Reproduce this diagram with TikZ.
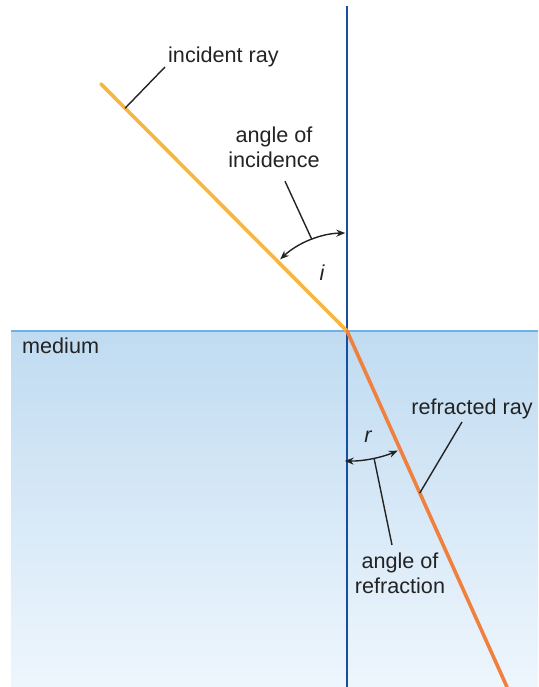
\documentclass[tikz,border=0pt]{standalone}
\usepackage{fontspec}
\setmainfont{Liberation Sans}
\usetikzlibrary{arrows.meta, calc}
\definecolor{normalblue}{RGB}{22,78,160}
\definecolor{incray}{RGB}{247,182,64}
\definecolor{refray}{RGB}{240,128,62}
\definecolor{medtop}{RGB}{192,219,241}
\definecolor{medbot}{RGB}{238,246,253}
\definecolor{surface}{RGB}{110,178,228}
\definecolor{labeltext}{RGB}{35,35,35}
\tikzset{
  lbl/.style={font=\fontsize{21.6}{25}\selectfont, text=labeltext, inner sep=0pt, align=center},
  ray/.style={line width=3.6pt, line cap=round},
  leader/.style={line width=1.4pt, labeltext},
  angarr/.style={{Stealth[length=9pt,width=7pt]}-{Stealth[length=9pt,width=7pt]}, line width=1.4pt, labeltext},
}

\begin{document}
\begin{tikzpicture}[x=1pt, y=1pt]
  \useasboundingbox (0,0) rectangle (538,687);
  \coordinate (O) at (347,356);
  \coordinate (ntop) at (347,681);
  \coordinate (nbot) at (347,0);
  \coordinate (src) at (101,603);
  \coordinate (dst) at (507,0);
  \coordinate (mleft) at (11,356);
  \coordinate (mright) at (538,356);

  \shade[top color=medtop, bottom color=medbot] (11,0) rectangle (mright);
  \draw[surface, line width=2pt] (mleft) -- (mright);
  \draw[normalblue, line width=2.8pt] (nbot) -- (ntop);
  \draw[ray, incray] (src) -- (O);
  \draw[ray, refray] (O) -- (dst);

  \node[lbl, anchor=base west] (incl) at (168,624) {incident ray};
  \node[lbl, anchor=north] (incang) at (274,560) {angle of\\incidence};
  \node[lbl, anchor=base west] (medl) at (22,333) {medium};
  \node[lbl, anchor=base] (refl) at (472,272) {refracted ray};
  \node[lbl, anchor=north] (refang) at (400,134) {angle of\\refraction};
  \node[lbl, font=\fontsize{21.6}{25}\selectfont\itshape] (ilbl) at (322,414) {i};
  \node[lbl, font=\fontsize{21.6}{25}\selectfont\itshape] (rlbl) at (368,250) {r};

  \draw[angarr] ($(O)+(133:98)$) arc[start angle=133, end angle=91, radius=98];
  \draw[angarr] ($(O)+(-91:130)$) arc[start angle=-91, end angle=-67, radius=130];

  \draw[leader] ($(src)!0.098!(O)$) -- ($(incl.base west)+(-3,-4)$);
  \draw[leader] ($(O)+(111:98)$) -- ($(incang.south)+(11,-13)$);
  \draw[leader] ($(O)+(-78:130)$) -- ($(refang.north)+(-8,8)$);
  \draw[leader] ($(O)!0.455!(dst)$) -- ($(refl.base)+(-10,-7)$);
\end{tikzpicture}
\end{document}
